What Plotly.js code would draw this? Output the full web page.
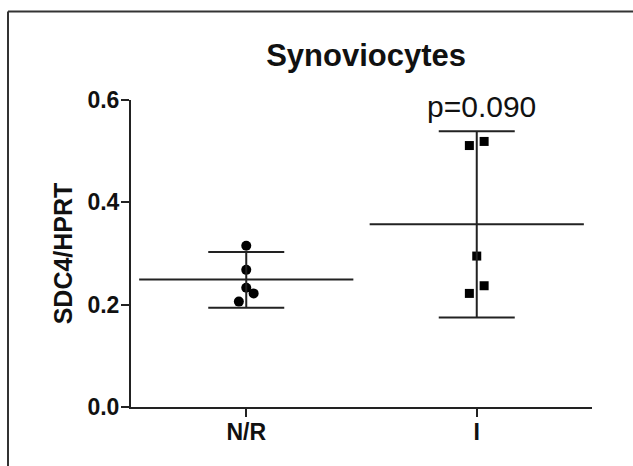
<!DOCTYPE html>
<html>
<head>
<meta charset="utf-8">
<script src="https://cdn.plot.ly/plotly-3.0.1.min.js"></script>
<style>html,body{margin:0;padding:0;background:#fff;}#chart{width:633px;height:466px;}</style>
</head>
<body>
<div id="chart"></div>
<script>
// Data
const categories = ['N/R', 'I'];
const nrValues = [0.315, 0.268, 0.233, 0.222, 0.206];
const nrJitter = [0, 0, 0, 0.032, -0.032];
const iValues = [0.511, 0.519, 0.295, 0.237, 0.222];
const iJitter = [-0.032, 0.032, 0, 0.032, -0.032];
const means = [0.249, 0.357];
const errUpper = [0.303, 0.539];
const errLower = [0.194, 0.175];
const pLabel = 'p=0.090';

const ink = '#222222';
const fam = 'Liberation Sans, Arial, sans-serif';

const traces = [
  {
    type: 'scatter', mode: 'markers',
    x: nrValues.map((v, i) => 0 + nrJitter[i]), y: nrValues,
    marker: {symbol: 'circle', size: 10, color: '#000'},
    hoverinfo: 'y', showlegend: false
  },
  {
    type: 'scatter', mode: 'markers',
    x: iValues.map((v, i) => 1 + iJitter[i]), y: iValues,
    marker: {symbol: 'square', size: 9, color: '#000'},
    hoverinfo: 'y', showlegend: false
  },
  {
    type: 'scatter', mode: 'markers',
    x: [0, 1], y: means,
    marker: {symbol: 'line-ew', size: 153, line: {width: 2, color: ink}, color: ink},
    error_y: {
      type: 'data', symmetric: false,
      array: errUpper.map((u, i) => u - means[i]),
      arrayminus: errLower.map((l, i) => means[i] - l),
      color: ink, thickness: 2, width: 38
    },
    hoverinfo: 'y', showlegend: false
  }
];

const layout = {
  width: 633, height: 466,
  margin: {l: 131, r: 41, t: 100, b: 59},
  paper_bgcolor: '#fff', plot_bgcolor: '#fff',
  font: {family: fam, color: '#111'},
  title: {
    text: '<b>Synoviocytes</b>',
    font: {size: 31, color: '#111'},
    xref: 'paper', x: 0.51, xanchor: 'center',
    yref: 'container', y: 1 - 55 / 466, yanchor: 'middle'
  },
  xaxis: {
    range: [-0.5, 1.5],
    tickvals: [0, 1], ticktext: categories,
    showgrid: false, zeroline: false,
    showline: true, linecolor: ink, linewidth: 2,
    ticks: 'outside', ticklen: 8, tickwidth: 2, tickcolor: ink,
    ticklabelstandoff: -5,
    tickfont: {size: 23, color: '#111', family: fam, weight: 'bold'}
  },
  yaxis: {
    range: [0, 0.6],
    tickvals: [0, 0.2, 0.4, 0.6], ticktext: ['0.0', '0.2', '0.4', '0.6'],
    showgrid: false, zeroline: false,
    showline: true, linecolor: ink, linewidth: 2,
    ticks: 'outside', ticklen: 8, tickwidth: 2, tickcolor: ink,
    ticklabelstandoff: -3,
    tickfont: {size: 23, color: '#111', family: fam, weight: 'bold'},
    title: {text: '<b>SDC4/HPRT</b>', font: {size: 25, color: '#111'}, standoff: 8}
  },
  annotations: [
    {
      text: pLabel, xref: 'x', yref: 'paper', x: 1.02, y: 1 - 6 / 307,
      xanchor: 'center', yanchor: 'middle', showarrow: false,
      font: {size: 30, color: '#111', family: fam}
    }
  ],
  shapes: [
    {type: 'line', xref: 'paper', yref: 'paper', x0: -123 / 461, x1: 1 + 41 / 461, y0: 1 + 88.5 / 307, y1: 1 + 88.5 / 307, line: {color: '#333', width: 2}},
    {type: 'line', xref: 'paper', yref: 'paper', x0: -123 / 461, x1: -123 / 461, y0: 1 + 88.5 / 307, y1: -59 / 307, line: {color: '#333', width: 2}}
  ]
};

Plotly.newPlot('chart', traces, layout, {displayModeBar: false, staticPlot: true});
</script>
</body>
</html>
